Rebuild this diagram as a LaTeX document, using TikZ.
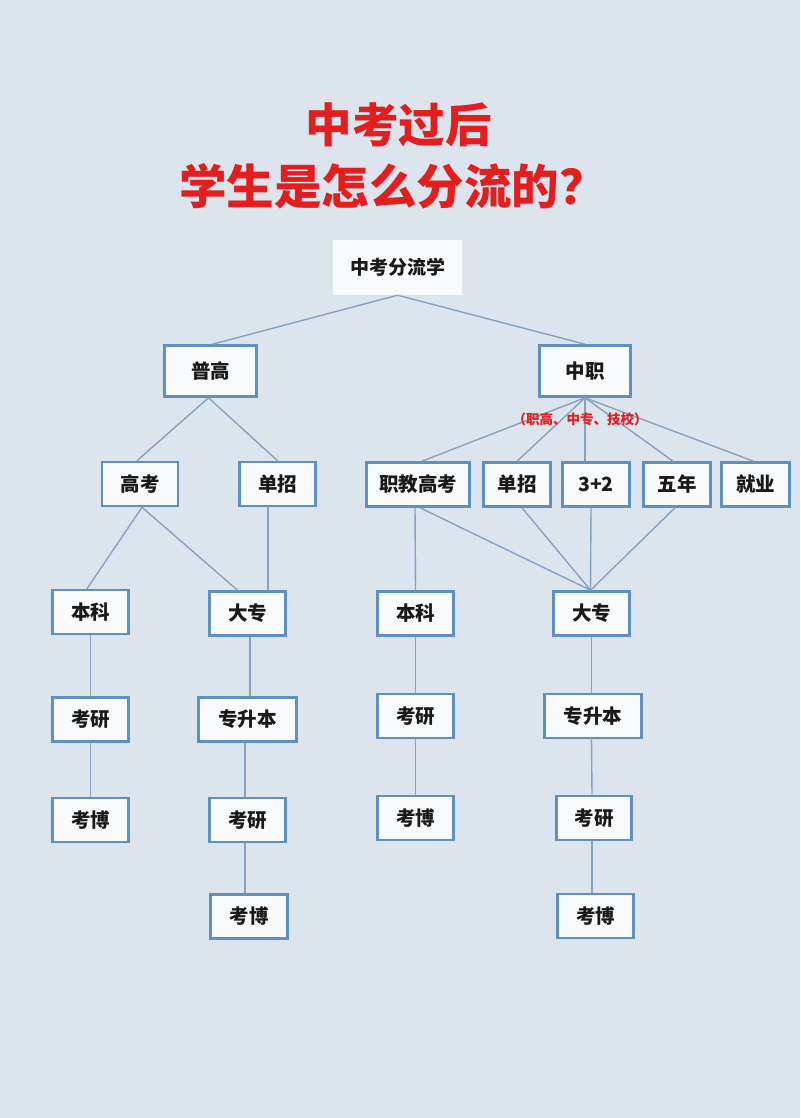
\documentclass[tikz,border=0pt]{standalone}
\usepackage{fontspec}
\newfontfamily\cjk{Noto Sans CJK SC}
\definecolor{bgc}{HTML}{DCE4EE}
\definecolor{bordc}{HTML}{5E90C2}
\definecolor{linec}{HTML}{86A2C2}
\definecolor{boxf}{HTML}{F8FAFC}
\definecolor{titlec}{HTML}{E21E1E}
\tikzset{
  bx/.style={draw=bordc, line width=2.6pt, fill=boxf, inner sep=0pt,
    minimum height=44pt, font=\cjk\bfseries\fontsize{19.5pt}{22pt}\selectfont, text=black!90},
  topbx/.style={fill=boxf, inner sep=0pt, minimum width=129pt, minimum height=55pt,
    font=\cjk\bfseries\fontsize{19pt}{22pt}\selectfont, text=black!90},
  conn/.style={draw=linec, line width=1.4pt},
  titlet/.style={font=\cjk\bfseries\fontsize{46.5pt}{52pt}\selectfont, text=titlec, inner sep=0pt},
}
\begin{document}
\begin{tikzpicture}[x=1pt,y=-1pt]
\fill[bgc] (0,0) rectangle (800,1118);
\useasboundingbox (0,0) rectangle (800,1118);
% title
\node[titlet] (t1) at (398.5,125) {中考过后};
\node[titlet, anchor=west, font=\cjk\bfseries\fontsize{47.5pt}{52pt}\selectfont] (t2) at (179,186) {学生是怎么分流的？};
% top
\node[topbx] (top) at (397.5,267.5) {中考分流学};
% row 2
\node[bx, minimum width=92pt, minimum height=51pt] (pg) at (210.5,371) {普高};
\node[bx, minimum width=91pt, minimum height=51pt] (zz) at (585,371) {中职};
% row 3
\node[bx, minimum width=76pt] (gk) at (140,484) {高考};
\node[bx, minimum width=76pt] (dzL) at (277.5,484) {单招};
\node[bx, minimum width=103pt] (zjgk) at (418,484.5) {职教高考};
\node[bx, minimum width=67pt] (dzR) at (517,484.5) {单招};
\node[bx, minimum width=67pt] (s32) at (596,484.5) {3+2};
\node[bx, minimum width=67pt] (wn) at (677,484.5) {五年};
\node[bx, minimum width=68pt] (jy) at (755.5,484.5) {就业};
% row 4
\node[bx, minimum width=76pt] (bkL) at (90.5,612) {本科};
\node[bx, minimum width=76pt] (dazL) at (247.5,613.5) {大专};
\node[bx, minimum width=76pt] (bkM) at (415.5,613.5) {本科};
\node[bx, minimum width=76pt] (dazR) at (591.5,613.5) {大专};
% row 5
\node[bx, minimum width=76pt] (kyL) at (90.5,719.5) {考研};
\node[bx, minimum width=98pt] (zsbL) at (247.5,719.5) {专升本};
\node[bx, minimum width=76pt] (kyM) at (415.5,716) {考研};
\node[bx, minimum width=97pt] (zsbR) at (593,716) {专升本};
% row 6
\node[bx, minimum width=76pt] (kbL) at (90.5,820) {考博};
\node[bx, minimum width=76pt] (kyL2) at (247.5,820) {考研};
\node[bx, minimum width=76pt] (kbM) at (415.5,818) {考博};
\node[bx, minimum width=75pt] (kyR) at (594,818) {考研};
% row 7
\node[bx, minimum width=77pt] (kbL2) at (249,916.5) {考博};
\node[bx, minimum width=76pt] (kbR) at (595.5,916) {考博};
% connectors
\draw[conn] (top.south) -- ([xshift=2pt]pg.north);
\draw[conn] (top.south) -- (zz.north);
\draw[conn] ([xshift=-2pt]pg.south) -- ([xshift=-3pt]gk.north);
\draw[conn] ([xshift=-2pt]pg.south) -- (dzL.north);
\draw[conn] ([xshift=2pt]gk.south) -- ([xshift=-3.5pt]bkL.north);
\draw[conn] ([xshift=2pt]gk.south) -- ([xshift=-10pt]dazL.north);
\draw[conn] ([xshift=-9.5pt]dzL.south) -- ([xshift=20.5pt]dazL.north);
\draw[conn] (zz.south) -- ([xshift=4pt]zjgk.north);
\draw[conn] (zz.south) -- (dzR.north);
\draw[conn] (zz.south) -- ([xshift=-11pt]s32.north);
\draw[conn] (zz.south) -- ([xshift=-4pt]wn.north);
\draw[conn] (zz.south) -- ([xshift=-2pt]jy.north);
\draw[conn] ([xshift=-3pt]zjgk.south) -- (bkM.north);
\draw[conn] ([xshift=2pt]zjgk.south) -- ([xshift=-1pt]dazR.north);
\draw[conn] ([xshift=5pt]dzR.south) -- ([xshift=-1pt]dazR.north);
\draw[conn] ([xshift=-5pt]s32.south) -- ([xshift=-1pt]dazR.north);
\draw[conn] ([xshift=-2pt]wn.south) -- ([xshift=-1pt]dazR.north);
\draw[conn] (bkL.south) -- (kyL.north);
\draw[conn] (kyL.south) -- (kbL.north);
\draw[conn] ([xshift=2.5pt]dazL.south) -- ([xshift=2.5pt]zsbL.north);
\draw[conn] ([xshift=-2.5pt]zsbL.south) -- ([xshift=-2.5pt]kyL2.north);
\draw[conn] ([xshift=-2.5pt]kyL2.south) -- ([xshift=-4pt]kbL2.north);
\draw[conn] (bkM.south) -- (kyM.north);
\draw[conn] (kyM.south) -- (kbM.north);
\draw[conn] (dazR.south) -- ([xshift=-1.5pt]zsbR.north);
\draw[conn] ([xshift=-1.5pt]zsbR.south) -- ([xshift=-2pt]kyR.north);
\draw[conn] ([xshift=-2pt]kyR.south) -- ([xshift=-3.5pt]kbR.north);
% subtitle
\node[font=\cjk\bfseries\fontsize{13.5pt}{16pt}\selectfont, text=titlec, inner sep=0pt] (sub) at (580,419) {（职高、中专、技校）};
\end{tikzpicture}
\end{document}
